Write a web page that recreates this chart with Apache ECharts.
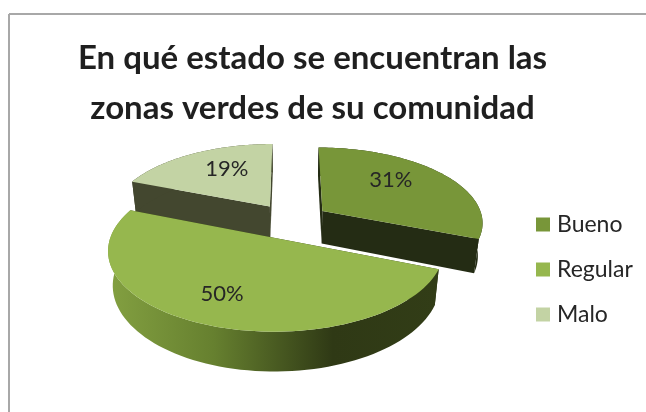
<!DOCTYPE html>
<html>
<head>
<meta charset="utf-8">
<style>
  html, body { margin: 0; padding: 0; background: #fff; }
  #main { width: 646px; height: 412px; }
</style>
<script src="https://cdn.jsdelivr.net/npm/echarts@6/dist/echarts.min.js"></script>
</head>
<body>
<div id="main"></div>
<script>
var categories = ['Bueno', 'Regular', 'Malo'];
var values = [31, 50, 19];
var titleLines = ['En qué estado se encuentran las', 'zonas verdes de su comunidad'];

var topColors = ['#789639', '#96b74e', '#c3d3a4'];
var wallColors = ['#242c14', '#2f3915', '#43472f'];
var labelNudge = [[-5, -8], [-13, 7], [5, -5]];
var drawOrder = [2, 0, 1]; // de atras hacia adelante

// perspectiva del pastel 3D
var view = { cx: 291, cy: 221, a: 161, b: 75, k: 0.14, depth: 33, shrink: 0.025, explode: 0.24 };

var total = values.reduce(function (s, v) { return s + v; }, 0);

function project(x, y, z) {
  var s = 1 / (1 - view.k * y);
  var sx = 1 / (1 - view.k * y + view.shrink * z);
  return [view.cx + view.a * x * sx, view.cy + (view.b * y + view.depth * z) * s];
}

function planePoint(slice, r, deg) {
  var t = deg * Math.PI / 180;
  return [slice.ox + r * Math.sin(t), slice.oy - r * Math.cos(t)];
}

function sliceOf(index) {
  var start = 0;
  for (var i = 0; i < index; i++) start += values[i] / total * 360;
  var end = start + values[index] / total * 360;
  var mid = (start + end) / 2 * Math.PI / 180;
  return {
    start: start,
    end: end,
    mid: (start + end) / 2,
    ox: view.explode * Math.sin(mid),
    oy: -view.explode * Math.cos(mid)
  };
}

function arcPoints(slice, z, reverse) {
  var pts = [];
  var steps = 80;
  for (var i = 0; i <= steps; i++) {
    var deg = slice.start + (slice.end - slice.start) * i / steps;
    var p = planePoint(slice, 1, deg);
    pts.push(project(p[0], p[1], z));
  }
  return reverse ? pts.reverse() : pts;
}

function wall(slice, deg) {
  var p = planePoint(slice, 1, deg);
  return [
    project(slice.ox, slice.oy, 0),
    project(p[0], p[1], 0),
    project(p[0], p[1], 1),
    project(slice.ox, slice.oy, 1)
  ];
}

function renderSlice(index) {
  return function () {
    var slice = sliceOf(index);
    var wallFill = wallColors[index];
    var rimFill = index === 1
      ? new echarts.graphic.LinearGradient(0, 0, 1, 0, [
          { offset: 0, color: '#83a041' },
          { offset: 0.32, color: '#66802f' },
          { offset: 0.68, color: '#2f3915' },
          { offset: 1, color: '#323d17' }
        ])
      : wallFill;
    var apex = project(slice.ox, slice.oy, 0);
    var lp = planePoint(slice, 0.6, slice.mid);
    var labelAt = project(lp[0], lp[1], 0);
    var top = [apex].concat(arcPoints(slice, 0, false));
    var rim = arcPoints(slice, 0, false).concat(arcPoints(slice, 1, true));
    return {
      type: 'group',
      children: [
        { type: 'polygon', shape: { points: wall(slice, slice.start) }, style: { fill: wallFill } },
        { type: 'polygon', shape: { points: wall(slice, slice.end) }, style: { fill: wallFill } },
        { type: 'polygon', shape: { points: rim }, style: { fill: rimFill } },
        { type: 'polygon', shape: { points: top }, style: { fill: topColors[index] } },
        {
          type: 'text',
          x: labelAt[0] + labelNudge[index][0],
          y: labelAt[1] + labelNudge[index][1],
          style: {
            text: Math.round(values[index] / total * 100) + '%',
            fill: '#262626',
            font: '22px Lato',
            align: 'center',
            verticalAlign: 'middle'
          }
        }
      ]
    };
  };
}

var chart = echarts.init(document.getElementById('main'), null, { renderer: 'canvas' });

chart.setOption({
  animation: false,
  backgroundColor: '#fff',
  title: {
    text: titleLines.join('\n'),
    left: 307.5,
    top: 28,
    textAlign: 'center',
    textStyle: { fontFamily: 'Lato', fontWeight: 'bold', fontSize: 33, lineHeight: 50, color: '#1f1f1f' }
  },
  legend: {
    orient: 'vertical',
    left: 531,
    top: 208,
    data: categories,
    icon: 'rect',
    itemWidth: 14,
    itemHeight: 14,
    itemGap: 22,
    textStyle: { fontFamily: 'Lato', fontSize: 23, color: '#262626', padding: [0, 0, 0, 2] }
  },
  graphic: [
    { type: 'line', shape: { x1: 9, y1: 14, x2: 646, y2: 14 }, style: { stroke: '#a8a8a8', lineWidth: 2 } },
    { type: 'line', shape: { x1: 9, y1: 14, x2: 9, y2: 412 }, style: { stroke: '#a8a8a8', lineWidth: 2 } }
  ],
  series: drawOrder.map(function (index) {
    return {
      type: 'custom',
      name: categories[index],
      coordinateSystem: 'none',
      itemStyle: { color: topColors[index] },
      renderItem: renderSlice(index),
      data: [values[index]]
    };
  })
});
</script>
</body>
</html>
